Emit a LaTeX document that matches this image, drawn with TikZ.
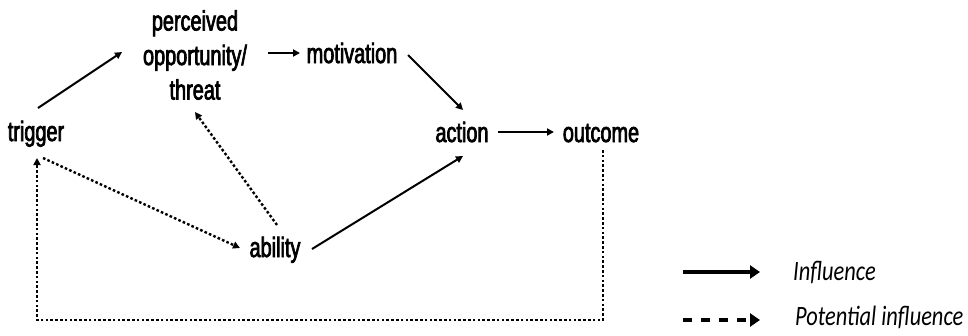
\documentclass[tikz,border=0pt]{standalone}
\usepackage{fontspec}
\setmainfont{Liberation Sans}[FakeStretch=0.71,FakeBold=2.5]
\newfontfamily\legfont{Carlito}[FakeStretch=0.8]
\usetikzlibrary{arrows.meta,calc}
\begin{document}
\begin{tikzpicture}[x=1pt,y=1pt,
  lbl/.style={inner sep=0pt, font=\fontsize{28}{34.5}\selectfont},
  infl/.style={line width=2pt, -{Triangle[length=7pt,width=7pt]}},
  potinfl/.style={line width=2.4pt, dash pattern=on 2.6pt off 2.2pt,
    -{Triangle[length=7pt,width=7pt]}},
  keytext/.style={inner sep=0pt, anchor=base west,
    font=\legfont\itshape\fontsize{28}{32}\selectfont},
  keysolid/.style={line width=3.2pt, -{Triangle[length=10pt,width=13pt]}},
  keydash/.style={line width=3.2pt, dash pattern=on 9pt off 9pt,
    -{Triangle[length=10pt,width=13pt]}},
]
\useasboundingbox (0,0) rectangle (968,-335);

% concepts
\node[lbl, anchor=base] (trig) at (36,-141) {trigger};
\node[lbl, align=center] (perc) at (195,-55) {perceived\\opportunity/\\threat};
\node[lbl, anchor=base] (mot) at (352,-63) {motivation};
\node[lbl, anchor=base] (act) at (462,-142) {action};
\node[lbl, anchor=base] (out) at (601,-142) {outcome};
\node[lbl, anchor=base] (abil) at (275,-257) {ability};

% direct influences
\draw[infl] ($(trig.base)+(2,33)$) -- ($(perc.center)+(-73,3)$);
\draw[infl] ($(perc.center)+(73,2)$) -- ($(mot.base)+(-52,10)$);
\draw[infl] ($(mot.base)+(56,8)$) -- ($(act.base)+(1,32)$);
\draw[infl] ($(act.base)+(36,10)$) -- ($(out.base)+(-47,10)$);
\draw[infl] ($(abil.base)+(37,8)$) -- ($(act.base)+(1,-14)$);

% potential influences
\draw[potinfl] ($(abil.base)+(2,32)$) -- ($(perc.center)+(0,-57)$);
\draw[potinfl] ($(trig.base)+(7,-17)$) -- ($(abil.base)+(-35,9)$);
\draw[potinfl] ($(out.base)+(2,-8)$) -- ($(out.base)+(2,-178)$)
  -| ($(trig.base)+(1,-17)$);

% key
\node[keytext] (kinf) at (793,-280) {Influence};
\node[keytext] (kpot) at (795,-325) {Potential influence};
\coordinate (kinfS) at (683,-272);
\coordinate (kpotS) at (683,-320);
\draw[keysolid] (kinfS) -- ($(kinf.base west)+(-33,8)$);
\draw[keydash] (kpotS) -- ($(kpot.base west)+(-35,5)$);
\end{tikzpicture}
\end{document}
